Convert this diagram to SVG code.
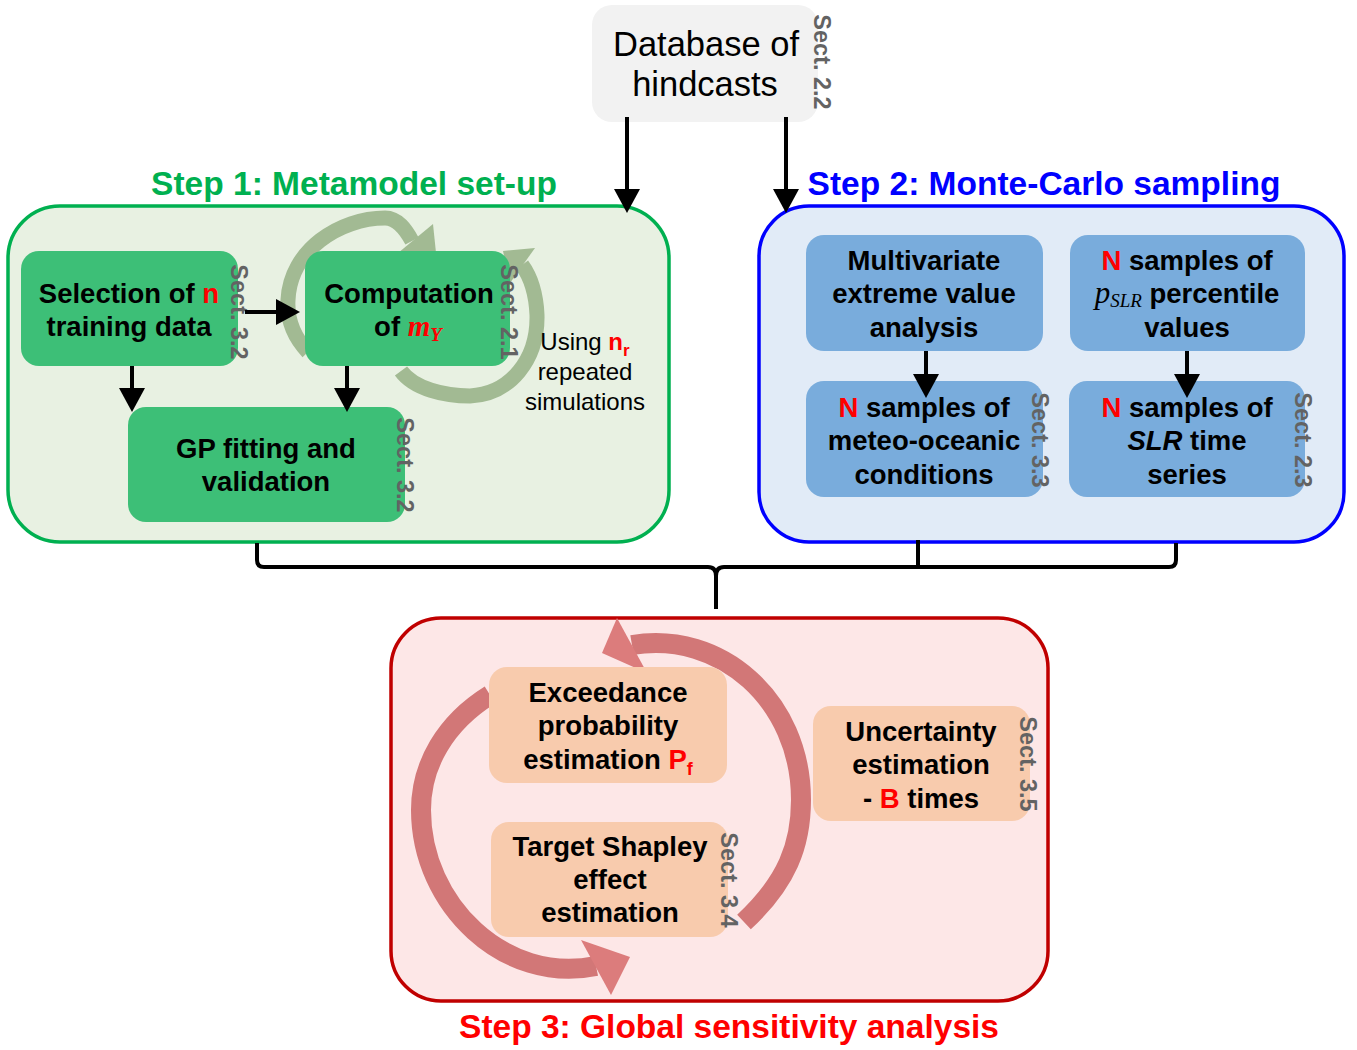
<svg xmlns="http://www.w3.org/2000/svg" width="1357" height="1050" viewBox="0 0 1357 1050">
<defs>
<marker id="ah" markerUnits="userSpaceOnUse" markerWidth="24" markerHeight="26" refX="14" refY="13" orient="auto"><path d="M0,0 L24,13 L0,26 z" fill="#000"/></marker>
</defs>
<style>
.t{font-family:"Liberation Sans",Arial,sans-serif;font-weight:bold;font-size:27.5px;fill:#000;text-anchor:middle}
.u{font-family:"Liberation Sans",Arial,sans-serif;font-size:24px;fill:#000;text-anchor:middle}
.db{font-family:"Liberation Sans",Arial,sans-serif;font-size:34.5px;fill:#000;text-anchor:middle}
.sect{font-family:"Liberation Sans",Arial,sans-serif;font-weight:bold;font-size:23.5px;fill:#636363;text-anchor:middle}
.r{fill:#ff0000}
.math{font-family:"Liberation Serif","Times New Roman",serif;font-style:italic}
.title{font-family:"Liberation Sans",Arial,sans-serif;font-weight:bold;font-size:33.5px;text-anchor:middle}
.conn{stroke:#000;stroke-width:4;fill:none}
.gn{fill:#3dbf77}
.bn{fill:#79acdc}
.sn{fill:#f8cbad}
.garc{fill:none;stroke:#a2ba93;stroke-width:15}
.gh{fill:#a2ba93}
.rarc{fill:none;stroke:#d27777;stroke-width:20}
.rh{fill:#dc7c7c}
</style>
<rect width="1357" height="1050" fill="#fff"/>

<g id="step1">
<rect x="8" y="206" width="661" height="336" rx="52" fill="#e8f1e2" stroke="#00b050" stroke-width="3.5"/>
<text class="title" x="354" y="195" fill="#00b050">Step 1: Metamodel set-up</text>
</g>
<g id="step2">
<rect x="759" y="206" width="585" height="336" rx="50" fill="#e1ebf7" stroke="#0000ff" stroke-width="3.5"/>
<text class="title" x="1044" y="195" fill="#0000ff">Step 2: Monte-Carlo sampling</text>
</g>
<g id="step3">
<rect x="391" y="618" width="657" height="383" rx="50" fill="#fde7e7" stroke="#c00000" stroke-width="3.5"/>
<text class="title" x="729" y="1038" fill="#ff0000">Step 3: Global sensitivity analysis</text>
</g>

<g id="cycle-green">
<path class="garc" d="M308,352 C292,335 287,318 288,300 C290,250 340,218 385,218 C398,218 406,230 412,241"/>
<polygon class="gh" points="433,224 438,272 392,258"/>
<path class="garc" d="M401,371 C414,389 445,396 470,396 C510,394 538,360 537,315 C536,292 530,276 522,265"/>
<polygon class="gh" points="535,248 503,251 510,283"/>
</g>

<g id="cycle-red">
<path class="rarc" d="M490,695 C445,723 421,765 421,810 C421,905 505,985 596,966"/>
<polygon class="rh" points="581,940 630,957 611,995"/>
<path class="rarc" d="M744,922 C787,882 801,845 801,800 C801,700 720,630 632,645"/>
<polygon class="rh" points="617,618 602,653 647,673"/>
</g>

<g id="n-database">
<rect x="592" y="5" width="226" height="117" rx="20" fill="#f2f2f2"/>
<text class="db" x="706" y="56">Database of</text>
<text class="db" x="705" y="96">hindcasts</text>
<text class="sect" transform="rotate(90 814 62)" x="814" y="62">Sect. 2.2</text>
</g>

<g id="n-selection">
<rect class="gn" x="21" y="251" width="217" height="115" rx="18"/>
<text class="t" x="129" y="303">Selection of <tspan class="r">n</tspan></text>
<text class="t" x="129" y="336">training data</text>
<text class="sect" transform="rotate(90 231 312)" x="231" y="312">Sect. 3.2</text>
</g>

<g id="n-computation">
<rect class="gn" x="305" y="251" width="205" height="115" rx="18"/>
<text class="t" x="409" y="303">Computation</text>
<text class="t" x="408" y="336">of <tspan class="math r" font-size="29">m</tspan><tspan class="math r" font-size="19" dy="5">Y</tspan></text>
<text class="sect" transform="rotate(90 501 312)" x="501" y="312">Sect. 2.1</text>
</g>

<g id="n-gp">
<rect class="gn" x="128" y="407" width="277" height="115" rx="18"/>
<text class="t" x="266" y="458">GP fitting and</text>
<text class="t" x="266" y="491">validation</text>
<text class="sect" transform="rotate(90 397 465)" x="397" y="465">Sect. 3.2</text>
</g>

<g id="n-using">
<text class="u" x="585" y="350">Using <tspan class="r" font-weight="bold">n</tspan><tspan class="r" font-weight="bold" font-size="17" dy="6">r</tspan></text>
<text class="u" x="585" y="380">repeated</text>
<text class="u" x="585" y="410">simulations</text>
</g>

<g id="n-multivariate">
<rect class="bn" x="806" y="235" width="237" height="116" rx="18"/>
<text class="t" x="924" y="270">Multivariate</text>
<text class="t" x="924" y="303">extreme value</text>
<text class="t" x="924" y="337">analysis</text>
</g>

<g id="n-pslr">
<rect class="bn" x="1070" y="235" width="235" height="116" rx="18"/>
<text class="t" x="1187" y="270"><tspan class="r">N</tspan> samples of</text>
<text class="t" x="1187" y="303"><tspan class="math" font-weight="normal" font-size="31">p</tspan><tspan class="math" font-weight="normal" font-size="19" dy="4">SLR</tspan><tspan dy="-4"> percentile</tspan></text>
<text class="t" x="1187" y="337">values</text>
</g>

<g id="n-meteo">
<rect class="bn" x="806" y="381" width="237" height="116" rx="18"/>
<text class="t" x="924" y="417"><tspan class="r">N</tspan> samples of</text>
<text class="t" x="924" y="450">meteo-oceanic</text>
<text class="t" x="924" y="484">conditions</text>
<text class="sect" transform="rotate(90 1032 440)" x="1032" y="440">Sect. 3.3</text>
</g>

<g id="n-slr">
<rect class="bn" x="1069" y="381" width="236" height="116" rx="18"/>
<text class="t" x="1187" y="417"><tspan class="r">N</tspan> samples of</text>
<text class="t" x="1187" y="450"><tspan font-style="italic">SLR</tspan> time</text>
<text class="t" x="1187" y="484">series</text>
<text class="sect" transform="rotate(90 1295 440)" x="1295" y="440">Sect. 2.3</text>
</g>

<g id="n-exceedance">
<rect class="sn" x="489" y="667" width="238" height="116" rx="18"/>
<text class="t" x="608" y="702">Exceedance</text>
<text class="t" x="608" y="735">probability</text>
<text class="t" x="608" y="769">estimation <tspan class="r">P</tspan><tspan class="r" font-size="18" dy="6">f</tspan></text>
</g>

<g id="n-shapley">
<rect class="sn" x="491" y="822" width="237" height="115" rx="18"/>
<text class="t" x="610" y="856">Target Shapley</text>
<text class="t" x="610" y="889">effect</text>
<text class="t" x="610" y="922">estimation</text>
<text class="sect" transform="rotate(90 721 880)" x="721" y="880">Sect. 3.4</text>
</g>

<g id="n-uncertainty">
<rect class="sn" x="813" y="706" width="217" height="115" rx="18"/>
<text class="t" x="921" y="741">Uncertainty</text>
<text class="t" x="921" y="774">estimation</text>
<text class="t" x="921" y="808">- <tspan class="r">B</tspan> times</text>
<text class="sect" transform="rotate(90 1020 764)" x="1020" y="764">Sect. 3.5</text>
</g>

<g id="connectors">
<line class="conn" x1="627" y1="117" x2="627" y2="203" marker-end="url(#ah)"/>
<line class="conn" x1="786" y1="117" x2="786" y2="203" marker-end="url(#ah)"/>
<line class="conn" x1="245" y1="312" x2="290" y2="312" marker-end="url(#ah)"/>
<line class="conn" x1="132" y1="366" x2="132" y2="402" marker-end="url(#ah)"/>
<line class="conn" x1="347" y1="366" x2="347" y2="402" marker-end="url(#ah)"/>
<line class="conn" x1="926" y1="351" x2="926" y2="388" marker-end="url(#ah)"/>
<line class="conn" x1="1187" y1="351" x2="1187" y2="388" marker-end="url(#ah)"/>
<path class="conn" d="M257,543 L257,560 Q257,567 264,567 L708,567 Q716,567 716,576 L716,609 M716,576 Q716,567 724,567 L1169,567 Q1176,567 1176,560 L1176,543"/>
<line class="conn" x1="918" y1="540" x2="918" y2="567"/>
</g>
</svg>
